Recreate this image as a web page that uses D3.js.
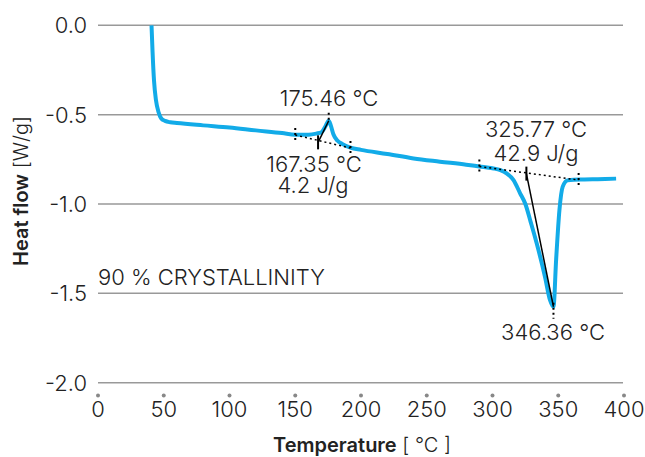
<!DOCTYPE html>
<html>
<head>
<meta charset="utf-8">
<script src="https://cdn.jsdelivr.net/npm/d3@7"></script>
<style>
  body { margin: 0; background: #fff; }
  text { font-family: Inter, "Liberation Sans", sans-serif; font-weight: 300; fill: #222; }
</style>
</head>
<body>
<script>
// DSC curve
var temperature = [40.7, 41.5, 42.6, 44.1, 46, 48, 51, 55, 60, 80, 100, 120, 140, 150, 160, 166, 170, 173, 175.46,
  177, 179, 182, 186, 192, 200, 220, 240, 260, 280, 290, 300, 306, 311, 316, 321, 325, 329, 333.6, 340, 343.7,
  346.36, 348.4, 350.9, 353.4, 357, 362, 370, 380, 394];
var heatFlow = [0, -0.15, -0.31, -0.42, -0.485, -0.52, -0.535, -0.543, -0.547, -0.56, -0.572, -0.588, -0.603, -0.612, -0.612, -0.606, -0.598, -0.565, -0.534,
  -0.56, -0.61, -0.645, -0.665, -0.685, -0.697, -0.72, -0.745, -0.763, -0.78, -0.79, -0.8, -0.81, -0.83, -0.866, -0.94, -1.0, -1.1, -1.22, -1.41, -1.537,
  -1.575, -1.31, -1.034, -0.903, -0.868, -0.864, -0.863, -0.861, -0.858];

var xTicks = [0, 50, 100, 150, 200, 250, 300, 350, 400];
var yTicks = [0, -0.5, -1.0, -1.5, -2.0];

// evaluation: baselines [T1, v1, T2, v2]
var baseSmall = [150, -0.614, 192, -0.687];
var baseBig = [290, -0.79, 365.5, -0.866];
// onset -> peak
var onsetSmall = [167.35, -0.655, 175.46, -0.534];
var onsetBig = [325.77, -0.83, 346.36, -1.575];

var width = 645, height = 457;
var svg = d3.select("body").append("svg")
  .attr("width", width)
  .attr("height", height);

var x = d3.scaleLinear().domain([0, 400]).range([98, 624]);
var y = d3.scaleLinear().domain([-2, 0]).range([382.7, 25.3]);

// grid
svg.selectAll(".grid").data(yTicks).enter().append("line")
  .attr("x1", 98).attr("x2", 623)
  .attr("y1", d => y(d)).attr("y2", d => y(d))
  .attr("stroke", "#999").attr("stroke-width", 1.5);

svg.selectAll(".ylab").data(yTicks).enter().append("text")
  .attr("x", 87).attr("y", d => y(d)).attr("dy", "0.36em")
  .attr("text-anchor", "end").attr("font-size", 22)
  .text(d => d3.format(".1f")(d).replace("\u2212", "-"));

svg.selectAll(".xdot").data(xTicks).enter().append("circle")
  .attr("cx", d => x(d)).attr("cy", 395.5).attr("r", 2)
  .attr("fill", "#888");

svg.selectAll(".xlab").data(xTicks).enter().append("text")
  .attr("x", d => x(d)).attr("y", 417)
  .attr("text-anchor", "middle").attr("font-size", 22)
  .text(d => d);

// axis titles
var xt = svg.append("text").attr("x", 362).attr("y", 452)
  .attr("text-anchor", "middle").attr("font-size", 20);
xt.append("tspan").attr("font-weight", 600).text("Temperature");
xt.append("tspan").text(" [ °C ]");

var yt = svg.append("text").attr("transform", "translate(28,191) rotate(-90)")
  .attr("text-anchor", "middle").attr("font-size", 20);
yt.append("tspan").attr("font-weight", 600).text("Heat flow");
yt.append("tspan").text(" [W/g]");

// curve
var line = d3.line()
  .x(d => x(d[0])).y(d => y(d[1]))
  .curve(d3.curveMonotoneX);
svg.append("path")
  .datum(d3.zip(temperature, heatFlow))
  .attr("d", line)
  .attr("fill", "none")
  .attr("stroke", "#12ABE8")
  .attr("stroke-width", 4)
  .attr("stroke-linejoin", "round");

// baselines
[baseSmall, baseBig].forEach(function(b) {
  svg.append("line")
    .attr("x1", x(b[0])).attr("y1", y(b[1]))
    .attr("x2", x(b[2])).attr("y2", y(b[3]))
    .attr("stroke", "#000").attr("stroke-width", 1.5)
    .attr("stroke-dasharray", "2,3");
  [[b[0], b[1]], [b[2], b[3]]].forEach(function(p) {
    svg.append("line")
      .attr("x1", x(p[0])).attr("x2", x(p[0]))
      .attr("y1", y(p[1]) - 7).attr("y2", y(p[1]) + 7)
      .attr("stroke", "#000").attr("stroke-width", 2)
      .attr("stroke-dasharray", "2,3");
  });
});

// onset lines and peak marks
[onsetSmall, onsetBig].forEach(function(o) {
  svg.append("line")
    .attr("x1", x(o[0])).attr("y1", y(o[1]))
    .attr("x2", x(o[2])).attr("y2", y(o[3]))
    .attr("stroke", "#000").attr("stroke-width", 1.5);
  svg.append("line")
    .attr("x1", x(o[0])).attr("x2", x(o[0]))
    .attr("y1", y(o[1]) - 7).attr("y2", y(o[1]) + 7)
    .attr("stroke", "#000").attr("stroke-width", 2);
});
svg.append("line")
  .attr("x1", x(onsetSmall[2])).attr("x2", x(onsetSmall[2]))
  .attr("y1", y(onsetSmall[3]) - 8).attr("y2", y(onsetSmall[3]) + 1)
  .attr("stroke", "#000").attr("stroke-width", 2).attr("stroke-dasharray", "2,3");
svg.append("line")
  .attr("x1", x(onsetBig[2])).attr("x2", x(onsetBig[2]))
  .attr("y1", y(onsetBig[3]) - 4).attr("y2", y(onsetBig[3]) + 12)
  .attr("stroke", "#000").attr("stroke-width", 2).attr("stroke-dasharray", "2,3");

// labels
var labels = [
  ["175.46 °C", 329, 106],
  ["167.35 °C", 314, 172],
  ["4.2 J/g", 313, 193],
  ["325.77 °C", 536, 137],
  ["42.9 J/g", 536, 161],
  ["346.36 °C", 553, 340]
];
svg.selectAll(".ann").data(labels).enter().append("text")
  .attr("x", d => d[1]).attr("y", d => d[2])
  .attr("text-anchor", "middle").attr("font-size", 22)
  .text(d => d[0]);

svg.append("text").attr("x", 98).attr("y", 285)
  .attr("font-size", 22)
  .text("90 % CRYSTALLINITY");
</script>
</body>
</html>
